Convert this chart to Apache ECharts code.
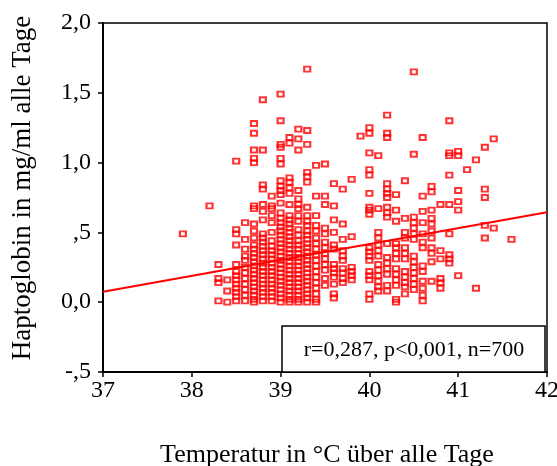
<!DOCTYPE html>
<html>
<head>
<meta charset="utf-8">
<script src="https://cdn.jsdelivr.net/npm/echarts@6/dist/echarts.min.js"></script>
<style>html,body{margin:0;padding:0;background:#fff;}#c{width:557px;height:466px;}</style>
</head>
<body>
<div id="c"></div>
<script>
// Temperature columns (°C) and haptoglobin values (mg/ml) read per column
const tempColumns = [37.9, 38.2, 38.3, 38.4, 38.5, 38.6, 38.7, 38.8, 38.9, 39.0, 39.1, 39.2, 39.3, 39.4, 39.5, 39.6, 39.7, 39.8, 39.9, 40.0, 40.1, 40.2, 40.3, 40.4, 40.5, 40.6, 40.7, 40.8, 40.9, 41.0, 41.1, 41.2, 41.3, 41.4, 41.6];
const hapValues = [
  [0.49],
  [0.69],
  [0.27, 0.17, 0.14, 0.01],
  [0.16, 0.08, 0.0],
  [1.01, 0.52, 0.49, 0.41, 0.27, 0.22, 0.19, 0.16, 0.13, 0.10, 0.07, 0.04, 0.01],
  [0.57, 0.45, 0.38, 0.33, 0.30, 0.25, 0.21, 0.17, 0.13, 0.09, 0.05, 0.01],
  [1.28, 1.21, 1.09, 1.03, 1.0, 0.69, 0.67, 0.56, 0.51, 0.46, 0.41, 0.38, 0.35, 0.32, 0.29, 0.26, 0.23, 0.20, 0.17, 0.14, 0.11, 0.08, 0.05, 0.02, 0.0],
  [1.45, 1.09, 0.84, 0.81, 0.70, 0.65, 0.59, 0.49, 0.46, 0.43, 0.40, 0.37, 0.34, 0.31, 0.28, 0.25, 0.22, 0.19, 0.16, 0.13, 0.10, 0.07, 0.04, 0.01],
  [0.76, 0.69, 0.67, 0.62, 0.57, 0.50, 0.44, 0.40, 0.37, 0.34, 0.31, 0.28, 0.25, 0.22, 0.19, 0.16, 0.13, 0.10, 0.07, 0.04, 0.01],
  [1.49, 1.30, 1.13, 1.11, 1.03, 0.99, 0.87, 0.83, 0.80, 0.77, 0.71, 0.64, 0.60, 0.57, 0.54, 0.51, 0.48, 0.45, 0.42, 0.39, 0.36, 0.33, 0.30, 0.27, 0.24, 0.21, 0.18, 0.15, 0.12, 0.09, 0.06, 0.03, 0.0],
  [1.18, 1.14, 0.89, 0.86, 0.82, 0.78, 0.70, 0.62, 0.59, 0.56, 0.53, 0.50, 0.47, 0.44, 0.41, 0.38, 0.35, 0.32, 0.29, 0.26, 0.23, 0.20, 0.17, 0.14, 0.11, 0.08, 0.05, 0.02, 0.0],
  [1.24, 1.17, 1.09, 0.80, 0.74, 0.70, 0.67, 0.62, 0.58, 0.52, 0.48, 0.44, 0.41, 0.38, 0.35, 0.32, 0.29, 0.26, 0.23, 0.20, 0.17, 0.14, 0.11, 0.08, 0.05, 0.02, 0.0],
  [1.67, 1.23, 1.13, 0.93, 0.90, 0.86, 0.68, 0.62, 0.58, 0.55, 0.51, 0.48, 0.45, 0.42, 0.39, 0.36, 0.33, 0.30, 0.27, 0.24, 0.21, 0.18, 0.15, 0.12, 0.09, 0.06, 0.03, 0.0],
  [0.98, 0.76, 0.62, 0.55, 0.51, 0.46, 0.42, 0.38, 0.34, 0.30, 0.26, 0.22, 0.18, 0.14, 0.10, 0.06, 0.02, 0.0],
  [0.99, 0.76, 0.70, 0.53, 0.49, 0.43, 0.39, 0.35, 0.31, 0.27, 0.23, 0.17, 0.12],
  [0.85, 0.69, 0.59, 0.50, 0.41, 0.38, 0.27, 0.24, 0.21, 0.18, 0.13, 0.06, 0.03],
  [0.81, 0.56, 0.45, 0.37, 0.33, 0.30, 0.24, 0.21, 0.17, 0.14],
  [0.88, 0.47, 0.25, 0.22, 0.19, 0.16],
  [1.19],
  [1.25, 1.21, 1.07, 0.95, 0.91, 0.78, 0.68, 0.66, 0.63, 0.39, 0.36, 0.33, 0.30, 0.22, 0.19, 0.16, 0.06, 0.02],
  [1.05, 0.67, 0.50, 0.46, 0.41, 0.37, 0.33, 0.27, 0.23, 0.19, 0.15, 0.11, 0.08],
  [1.34, 1.21, 1.18, 0.85, 0.81, 0.78, 0.75, 0.68, 0.64, 0.61, 0.42, 0.32, 0.28, 0.24, 0.20, 0.12, 0.08],
  [0.77, 0.66, 0.58, 0.42, 0.39, 0.35, 0.31, 0.24, 0.20, 0.16, 0.12, 0.02, 0.0],
  [0.87, 0.60, 0.50, 0.46, 0.39, 0.35, 0.31, 0.22, 0.18, 0.14, 0.11, 0.06],
  [1.65, 1.06, 0.61, 0.57, 0.53, 0.49, 0.45, 0.33, 0.29, 0.25, 0.21, 0.17, 0.13, 0.09],
  [1.18, 0.76, 0.65, 0.57, 0.49, 0.43, 0.39, 0.26, 0.22, 0.15, 0.10, 0.05, 0.01],
  [0.83, 0.79, 0.66, 0.60, 0.56, 0.51, 0.46, 0.39, 0.35, 0.29, 0.15],
  [0.70, 0.37, 0.31, 0.17, 0.14, 0.10],
  [1.30, 1.07, 1.05, 0.91, 0.70, 0.49, 0.34, 0.31, 0.28],
  [1.08, 1.05, 0.80, 0.72, 0.66, 0.19],
  [0.95],
  [1.02, 0.10],
  [1.11, 0.81, 0.75, 0.55, 0.46],
  [1.17, 0.53],
  [0.45]
];
// Regression line end points (temperature, haptoglobin)
const regLine = [[37, 0.075], [42, 0.645]];
const xTickLabels = ['37', '38', '39', '40', '41', '42'];
const yTickLabels = ['-,5', '0,0', ',5', '1,0', '1,5', '2,0'];
const statText = 'r=0,287, p<0,001, n=700';
const xTitle = 'Temperatur in °C über alle Tage';
const yTitle = 'Haptoglobin in mg/ml alle Tage';

const points = [];
tempColumns.forEach((t, i) => hapValues[i].forEach(v => points.push([t, v])));

const serif = "'Liberation Serif', 'Times New Roman', serif";
const chart = echarts.init(document.getElementById('c'), null, {renderer: 'canvas'});
chart.setOption({
  animation: false,
  backgroundColor: '#fff',
  grid: {left: 103, right: 10, top: 23, bottom: 94, containLabel: false, outerBoundsMode: 'none',
    show: true, borderColor: '#000', borderWidth: 1.5, backgroundColor: 'transparent'},
  xAxis: {
    type: 'value', min: 37, max: 42, interval: 1,
    axisLine: {show: true, onZero: false, lineStyle: {color: '#000', width: 2}},
    axisTick: {show: true, length: 5, lineStyle: {color: '#000', width: 1.5}},
    axisLabel: {fontFamily: serif, fontSize: 24, color: '#000', margin: 7,
      formatter: (v) => xTickLabels[Math.round(v - 37)]},
    splitLine: {show: false}
  },
  yAxis: {
    type: 'value', min: -0.5, max: 2.0, interval: 0.5,
    axisLine: {show: true, onZero: false, lineStyle: {color: '#000', width: 2}},
    axisTick: {show: true, length: 5, lineStyle: {color: '#000', width: 1.5}},
    axisLabel: {fontFamily: serif, fontSize: 24, color: '#000', margin: 12,
      formatter: (v) => yTickLabels[Math.round((v + 0.5) / 0.5)]},
    splitLine: {show: false}
  },
  series: [
    {
      type: 'scatter', data: points, symbol: 'rect', symbolSize: [6, 5],
      itemStyle: {color: 'rgba(0,0,0,0)', borderColor: '#ff0000', borderWidth: 2},
      z: 3
    },
    {
      type: 'line', data: regLine, symbol: 'none',
      lineStyle: {color: '#ff0000', width: 2}, z: 4
    }
  ],
  graphic: [
    {type: 'text', x: 23, y: 188, rotation: Math.PI / 2,
      style: {text: yTitle, font: "27px 'Liberation Serif'", fill: '#000', textAlign: 'center', textVerticalAlign: 'middle'}},
    {type: 'text', x: 327, y: 455,
      style: {text: xTitle, font: "26px 'Liberation Serif'", fill: '#000', textAlign: 'center', textVerticalAlign: 'middle'}},
    {type: 'rect', shape: {x: 282, y: 326, width: 263, height: 46},
      style: {fill: '#fff', stroke: '#000', lineWidth: 1.5}, z: 10},
    {type: 'text', x: 414, y: 350, z: 11,
      style: {text: statText, font: "22px 'Liberation Serif'", fill: '#000', textAlign: 'center', textVerticalAlign: 'middle'}}
  ]
});
</script>
</body>
</html>
